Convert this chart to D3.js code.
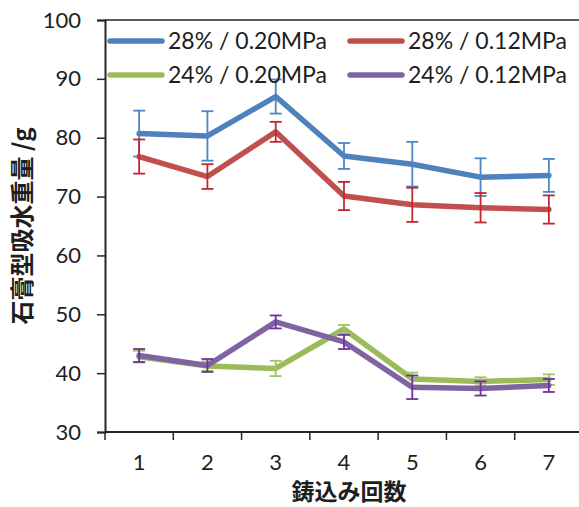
<!DOCTYPE html>
<html>
<head>
<meta charset="utf-8">
<script src="https://cdn.jsdelivr.net/npm/d3@7"></script>
<style>
  html, body { margin: 0; padding: 0; background: #fff; }
  svg { display: block; }
</style>
</head>
<body>
<svg id="chart" width="579" height="507"></svg>
<script>
// Casting rounds (x categories)
const rounds = ["1", "2", "3", "4", "5", "6", "7"];
const yTicks = [30, 40, 50, 60, 70, 80, 90, 100];

// Series names
const seriesNames = ["28% / 0.20MPa", "28% / 0.12MPa", "24% / 0.20MPa", "24% / 0.12MPa"];

// Mean water absorption (g) per casting round
const s28_020 = [80.7, 80.3, 87.0, 76.9, 75.5, 73.3, 73.6];
const s28_012 = [76.8, 73.4, 81.0, 70.1, 68.6, 68.1, 67.8];
const s24_020 = [42.8, 41.2, 40.8, 47.5, 39.0, 38.6, 38.9];
const s24_012 = [43.0, 41.3, 48.7, 45.3, 37.6, 37.4, 37.9];

// Standard deviations (error bar half-lengths)
const e28_020 = [3.9, 4.2, 2.9, 2.2, 3.8, 3.2, 2.8];
const e28_012 = [2.9, 2.1, 1.7, 2.4, 2.9, 2.5, 2.4];
const e24_020 = [1.0, 0.8, 1.3, 0.7, 1.1, 0.7, 0.9];
const e24_012 = [1.1, 1.1, 1.1, 1.2, 2.0, 1.2, 1.1];

const lineColors = ["#4f81bd", "#c0504d", "#9bbb59", "#8064a2"];
const errColors  = ["#4a86c8", "#c4262e", "#a3c462", "#7030a0"];

const series = [
  { name: seriesNames[0], values: s28_020, errs: e28_020 },
  { name: seriesNames[1], values: s28_012, errs: e28_012 },
  { name: seriesNames[2], values: s24_020, errs: e24_020 },
  { name: seriesNames[3], values: s24_012, errs: e24_012 }
];

const svg = d3.select("#chart");
const plotLeft = 105, plotTop = 20, plotBottom = 432, plotRight = 583;
const font = "Lato, 'Open Sans', sans-serif";
const cjk = "'Noto Sans CJK JP', sans-serif";
const axisColor = "#262626";
const textColor = "#1e1e1e";

const x = d3.scaleBand().domain(rounds).range([plotLeft, plotRight]).padding(0);
const y = d3.scaleLinear().domain([30, 100]).range([plotBottom, plotTop]);

// Top border of plot area
svg.append("line")
  .attr("x1", plotLeft).attr("x2", plotRight)
  .attr("y1", plotTop).attr("y2", plotTop)
  .attr("stroke", axisColor).attr("stroke-width", 1.5);

// Y axis
const yAxis = svg.append("g")
  .attr("transform", `translate(${plotLeft},0)`)
  .call(d3.axisLeft(y).tickValues(yTicks).tickSize(8).tickPadding(16).tickFormat(d3.format("d")));
yAxis.select(".domain").attr("stroke", axisColor).attr("stroke-width", 2);
yAxis.selectAll(".tick line").attr("stroke", axisColor).attr("stroke-width", 1.5);
yAxis.selectAll(".tick text")
  .attr("font-family", font).attr("font-size", 22).attr("fill", textColor);

// X axis: tick marks at category boundaries, labels at centers
const xAxisG = svg.append("g").attr("transform", `translate(0,${plotBottom})`);
xAxisG.append("line")
  .attr("x1", plotLeft).attr("x2", plotRight).attr("y1", 0).attr("y2", 0)
  .attr("stroke", axisColor).attr("stroke-width", 2);
const boundaries = rounds.map(r => x(r)).concat([x(rounds[rounds.length - 1]) + x.bandwidth()]);
xAxisG.selectAll("line.tick")
  .data(boundaries)
  .join("line")
  .attr("class", "tick")
  .attr("x1", d => d).attr("x2", d => d)
  .attr("y1", 0).attr("y2", 8)
  .attr("stroke", axisColor).attr("stroke-width", 1.5);
xAxisG.selectAll("text.lbl")
  .data(rounds)
  .join("text")
  .attr("class", "lbl")
  .attr("x", d => x(d) + x.bandwidth() / 2)
  .attr("y", 38)
  .attr("text-anchor", "middle")
  .attr("font-family", font).attr("font-size", 22).attr("fill", textColor)
  .text(d => d);

// Axis titles
svg.append("text")
  .attr("x", 349).attr("y", 500)
  .attr("text-anchor", "middle")
  .attr("font-family", cjk).attr("font-weight", "bold").attr("font-size", 23)
  .attr("fill", textColor)
  .text("鋳込み回数");

svg.append("text")
  .attr("transform", "translate(31,226) rotate(-90)")
  .attr("text-anchor", "middle")
  .attr("font-family", cjk).attr("font-weight", "bold").attr("font-size", 24)
  .attr("fill", textColor)
  .text("石膏型吸水重量 /g");

// Series lines and error bars
const cx = d => x(d) + x.bandwidth() / 2;
const line = d3.line().x((d, i) => cx(rounds[i])).y(d => y(d));
const cap = 6;

series.forEach((s, si) => {
  const g = svg.append("g");
  g.append("path")
    .datum(s.values)
    .attr("d", line)
    .attr("fill", "none")
    .attr("stroke", lineColors[si])
    .attr("stroke-width", 5.5)
    .attr("stroke-linejoin", "round")
    .attr("stroke-linecap", "round");

  const eb = g.selectAll("g.err")
    .data(s.values.map((v, i) => ({ v, e: s.errs[i], r: rounds[i] })))
    .join("g").attr("class", "err")
    .attr("stroke", errColors[si]).attr("stroke-width", 1.8);
  eb.append("line")
    .attr("x1", d => cx(d.r)).attr("x2", d => cx(d.r))
    .attr("y1", d => y(d.v + d.e)).attr("y2", d => y(d.v - d.e));
  eb.append("line")
    .attr("x1", d => cx(d.r) - cap).attr("x2", d => cx(d.r) + cap)
    .attr("y1", d => y(d.v + d.e)).attr("y2", d => y(d.v + d.e));
  eb.append("line")
    .attr("x1", d => cx(d.r) - cap).attr("x2", d => cx(d.r) + cap)
    .attr("y1", d => y(d.v - d.e)).attr("y2", d => y(d.v - d.e));
});

// Legend (two columns, two rows)
const legendPos = [
  { lx: 110, ly: 41 }, { lx: 350, ly: 41 },
  { lx: 110, ly: 75 }, { lx: 350, ly: 75 }
];
series.forEach((s, si) => {
  const p = legendPos[si];
  svg.append("line")
    .attr("x1", p.lx).attr("x2", p.lx + 52)
    .attr("y1", p.ly).attr("y2", p.ly)
    .attr("stroke", lineColors[si]).attr("stroke-width", 5.5)
    .attr("stroke-linecap", "round");
  svg.append("text")
    .attr("x", p.lx + 58).attr("y", p.ly + 8)
    .attr("font-family", font).attr("font-size", 23).attr("fill", textColor)
    .text(s.name);
});
</script>
</body>
</html>
